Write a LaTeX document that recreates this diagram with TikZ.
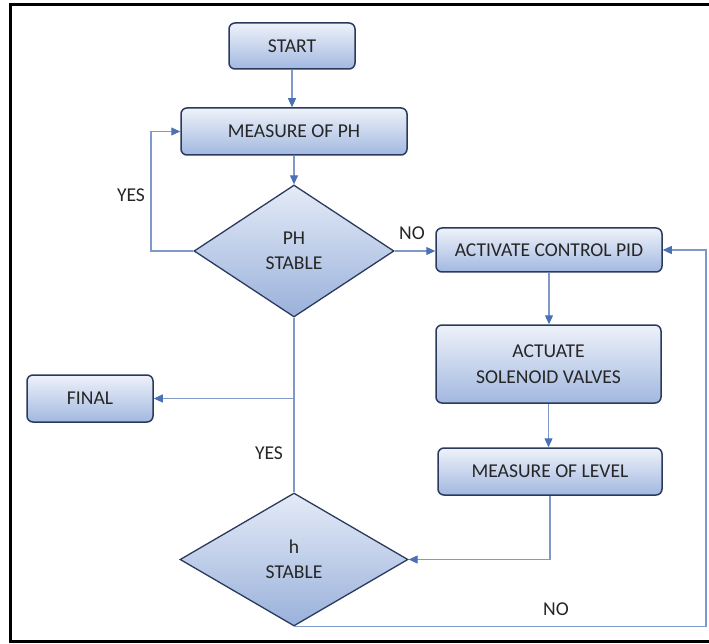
\documentclass[tikz,border=0pt]{standalone}
\usepackage{fontspec}
\setmainfont{Carlito}
\usetikzlibrary{shapes.geometric,arrows.meta}

\definecolor{boxline}{HTML}{2A3A5C}
\definecolor{boxtop}{HTML}{EEF2FA}
\definecolor{boxbot}{HTML}{A2B8E0}
\definecolor{diatop}{HTML}{E4EBF7}
\definecolor{diabot}{HTML}{9AB1DB}
\definecolor{flowline}{HTML}{7F99C8}
\definecolor{tipblue}{HTML}{4A70B5}
\definecolor{txt}{HTML}{262626}

\tikzset{
	procbox/.style={draw=boxline, line width=1.5pt, rounded corners=6pt,
		top color=boxtop, bottom color=boxbot, text=txt, align=center,
		inner sep=0pt, font=\fontsize{19.6}{25.5}\selectfont},
	decide/.style={diamond, draw=boxline, line width=1.3pt,
		top color=diatop, bottom color=diabot, text=txt, align=center,
		inner sep=0pt, font=\fontsize{19.6}{25.5}\selectfont},
	flow/.style={draw=flowline, line width=1.1pt, ->},
	lbl/.style={text=txt, font=\fontsize{19.6}{25.5}\selectfont},
}

\begin{document}
\begin{tikzpicture}[x=1pt, y=-1pt, >={Triangle[length=9pt,width=8pt,color=tipblue]}]
	\useasboundingbox (0,0) rectangle (709,644);
	\draw[line width=3pt] (712,5) -- (10.5,5) -- (10.5,641.5) -- (712,641.5);

	\node[procbox, minimum width=126pt, minimum height=46pt] (start) at (292,46) {START};
	\node[procbox, minimum width=226pt, minimum height=47pt] (measph) at (294,131.5) {MEASURE OF PH};
	\node[decide, minimum width=200pt, minimum height=132pt] (d1) at (294,251) {PH\\STABLE};
	\node[procbox, minimum width=226pt, minimum height=44pt] (act) at (549,250) {ACTIVATE CONTROL PID};
	\node[procbox, minimum width=225pt, minimum height=78pt] (actv) at (548.5,364) {ACTUATE\\SOLENOID VALVES};
	\node[procbox, minimum width=224pt, minimum height=47pt] (level) at (550,471.5) {MEASURE OF LEVEL};
	\node[procbox, minimum width=126pt, minimum height=47pt] (final) at (90,398.5) {FINAL};
	\node[decide, minimum width=228pt, minimum height=133pt] (d2) at (294,559.5) {h\\STABLE};

	\node[lbl] (yes1) at (131,195) {YES};
	\node[lbl] (no1) at (412,233) {NO};
	\node[lbl] (yes2) at (269,453) {YES};
	\node[lbl] (no2) at (556,609) {NO};

	\coordinate (loopl) at (151,0);
	\coordinate (loopr) at (706,0);

	\draw[flow] (start.south) -- (start.south |- measph.north);
	\draw[flow] (measph.south) -- (d1.north);
	\draw[flow] (d1.west) -| (loopl |- measph.west) -- (measph.west);
	\draw[flow] (d1.east) -- (d1.east -| act.west);
	\draw[flow] (act.south) -- (act.south |- actv.north);
	\draw[flow] (actv.south) -- (actv.south |- level.north);
	\draw[flow] (level.south) |- (d2.east);
	\draw[draw=flowline, line width=1.1pt] (d1.south) -- (d2.north);
	\draw[flow] (d1.south |- final.east) -- (final.east);
	\draw[flow] (d2.south) -| (loopr |- act.east) -- (act.east);
\end{tikzpicture}
\end{document}
